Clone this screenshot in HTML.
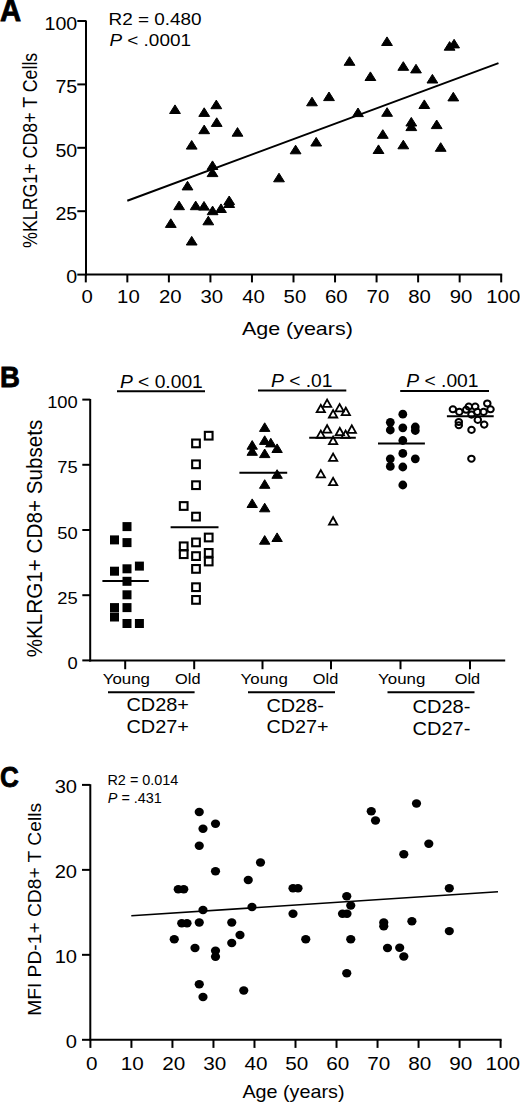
<!DOCTYPE html>
<html><head><meta charset="utf-8"><style>
html,body{margin:0;padding:0;background:#fff;}
svg{display:block;}
text{font-family:"Liberation Sans",sans-serif;fill:#000;stroke:none;}
</style></head><body>
<svg width="520" height="1102" viewBox="0 0 520 1102" fill="#000" stroke="#000">
<text transform="translate(0.07,20.50) scale(0.9591,1)" font-size="30.5" font-weight="bold" style="stroke:#000;stroke-width:0.8px">A</text>
<line x1="86.00" y1="20.50" x2="86.00" y2="275.50" stroke-width="2"/>
<line x1="85.00" y1="274.60" x2="502.20" y2="274.60" stroke-width="2"/>
<line x1="77.30" y1="274.60" x2="86.00" y2="274.60" stroke-width="2"/>
<text transform="translate(66.30,283.30) scale(1.0600,1)" font-size="18.5">0</text>
<line x1="77.30" y1="211.20" x2="86.00" y2="211.20" stroke-width="2"/>
<text transform="translate(55.42,219.90) scale(1.0600,1)" font-size="18.5">25</text>
<line x1="77.30" y1="147.80" x2="86.00" y2="147.80" stroke-width="2"/>
<text transform="translate(55.42,156.50) scale(1.0600,1)" font-size="18.5">50</text>
<line x1="77.30" y1="84.40" x2="86.00" y2="84.40" stroke-width="2"/>
<text transform="translate(55.42,93.10) scale(1.0600,1)" font-size="18.5">75</text>
<line x1="77.30" y1="21.00" x2="86.00" y2="21.00" stroke-width="2"/>
<text transform="translate(44.53,29.70) scale(1.0600,1)" font-size="18.5">100</text>
<line x1="85.80" y1="274.60" x2="85.80" y2="282.40" stroke-width="2"/>
<text transform="translate(81.55,303.30) scale(1.1000,1)" font-size="18.5">0</text>
<line x1="127.34" y1="274.60" x2="127.34" y2="282.40" stroke-width="2"/>
<text transform="translate(117.09,303.30) scale(1.1000,1)" font-size="18.5">10</text>
<line x1="168.88" y1="274.60" x2="168.88" y2="282.40" stroke-width="2"/>
<text transform="translate(158.88,303.30) scale(1.1000,1)" font-size="18.5">20</text>
<line x1="210.42" y1="274.60" x2="210.42" y2="282.40" stroke-width="2"/>
<text transform="translate(200.53,303.30) scale(1.1000,1)" font-size="18.5">30</text>
<line x1="251.96" y1="274.60" x2="251.96" y2="282.40" stroke-width="2"/>
<text transform="translate(242.22,303.30) scale(1.1000,1)" font-size="18.5">40</text>
<line x1="293.50" y1="274.60" x2="293.50" y2="282.40" stroke-width="2"/>
<text transform="translate(283.61,303.30) scale(1.1000,1)" font-size="18.5">50</text>
<line x1="335.04" y1="274.60" x2="335.04" y2="282.40" stroke-width="2"/>
<text transform="translate(325.04,303.30) scale(1.1000,1)" font-size="18.5">60</text>
<line x1="376.58" y1="274.60" x2="376.58" y2="282.40" stroke-width="2"/>
<text transform="translate(366.58,303.30) scale(1.1000,1)" font-size="18.5">70</text>
<line x1="418.12" y1="274.60" x2="418.12" y2="282.40" stroke-width="2"/>
<text transform="translate(408.17,303.30) scale(1.1000,1)" font-size="18.5">80</text>
<line x1="459.66" y1="274.60" x2="459.66" y2="282.40" stroke-width="2"/>
<text transform="translate(449.71,303.30) scale(1.1000,1)" font-size="18.5">90</text>
<line x1="501.20" y1="274.60" x2="501.20" y2="282.40" stroke-width="2"/>
<text transform="translate(486.30,303.30) scale(1.1000,1)" font-size="18.5">100</text>
<text transform="translate(108.49,25.00) scale(1.1000,1)" font-size="17.2" xml:space="preserve"><tspan>R2 = 0.480</tspan></text>
<text transform="translate(109.43,45.50) scale(1.1000,1)" font-size="17.2" xml:space="preserve"><tspan font-style="italic">P</tspan><tspan> &lt; .0001</tspan></text>
<text transform="translate(37.10,247.92) rotate(-90) scale(0.9039,1)" font-size="19.7">%KLRG1+ CD8+ T Cells</text>
<text transform="translate(241.89,334.80) scale(1.1928,1)" font-size="18">Age (years)</text>
<line x1="127.30" y1="200.70" x2="498.50" y2="63.10" stroke-width="2"/>
<path d="M169.60 113.50L175.00 104.90L180.40 113.50Z" stroke-width="1" stroke-linejoin="round"/>
<path d="M210.90 108.70L216.30 100.10L221.70 108.70Z" stroke-width="1" stroke-linejoin="round"/>
<path d="M198.80 116.40L204.20 107.80L209.60 116.40Z" stroke-width="1" stroke-linejoin="round"/>
<path d="M211.30 126.40L216.70 117.80L222.10 126.40Z" stroke-width="1" stroke-linejoin="round"/>
<path d="M198.80 133.70L204.20 125.10L209.60 133.70Z" stroke-width="1" stroke-linejoin="round"/>
<path d="M232.10 136.20L237.50 127.60L242.90 136.20Z" stroke-width="1" stroke-linejoin="round"/>
<path d="M186.30 149.10L191.70 140.50L197.10 149.10Z" stroke-width="1" stroke-linejoin="round"/>
<path d="M207.10 169.50L212.50 160.90L217.90 169.50Z" stroke-width="1" stroke-linejoin="round"/>
<path d="M207.10 176.60L212.50 168.00L217.90 176.60Z" stroke-width="1" stroke-linejoin="round"/>
<path d="M182.10 189.90L187.50 181.30L192.90 189.90Z" stroke-width="1" stroke-linejoin="round"/>
<path d="M173.70 209.70L179.10 201.10L184.50 209.70Z" stroke-width="1" stroke-linejoin="round"/>
<path d="M190.30 209.70L195.70 201.10L201.10 209.70Z" stroke-width="1" stroke-linejoin="round"/>
<path d="M198.60 210.10L204.00 201.50L209.40 210.10Z" stroke-width="1" stroke-linejoin="round"/>
<path d="M207.20 214.70L212.60 206.10L218.00 214.70Z" stroke-width="1" stroke-linejoin="round"/>
<path d="M215.60 212.50L221.00 203.90L226.40 212.50Z" stroke-width="1" stroke-linejoin="round"/>
<path d="M223.80 204.60L229.20 196.00L234.60 204.60Z" stroke-width="1" stroke-linejoin="round"/>
<path d="M223.80 207.50L229.20 198.90L234.60 207.50Z" stroke-width="1" stroke-linejoin="round"/>
<path d="M165.40 227.40L170.80 218.80L176.20 227.40Z" stroke-width="1" stroke-linejoin="round"/>
<path d="M202.90 224.80L208.30 216.20L213.70 224.80Z" stroke-width="1" stroke-linejoin="round"/>
<path d="M186.30 245.00L191.70 236.40L197.10 245.00Z" stroke-width="1" stroke-linejoin="round"/>
<path d="M273.60 181.80L279.00 173.20L284.40 181.80Z" stroke-width="1" stroke-linejoin="round"/>
<path d="M290.20 153.80L295.60 145.20L301.00 153.80Z" stroke-width="1" stroke-linejoin="round"/>
<path d="M310.80 146.00L316.20 137.40L321.60 146.00Z" stroke-width="1" stroke-linejoin="round"/>
<path d="M306.60 105.80L312.00 97.20L317.40 105.80Z" stroke-width="1" stroke-linejoin="round"/>
<path d="M323.60 100.60L329.00 92.00L334.40 100.60Z" stroke-width="1" stroke-linejoin="round"/>
<path d="M344.10 65.30L349.50 56.70L354.90 65.30Z" stroke-width="1" stroke-linejoin="round"/>
<path d="M352.60 116.60L358.00 108.00L363.40 116.60Z" stroke-width="1" stroke-linejoin="round"/>
<path d="M365.00 80.50L370.40 71.90L375.80 80.50Z" stroke-width="1" stroke-linejoin="round"/>
<path d="M381.60 45.50L387.00 36.90L392.40 45.50Z" stroke-width="1" stroke-linejoin="round"/>
<path d="M381.70 116.30L387.10 107.70L392.50 116.30Z" stroke-width="1" stroke-linejoin="round"/>
<path d="M377.40 138.30L382.80 129.70L388.20 138.30Z" stroke-width="1" stroke-linejoin="round"/>
<path d="M373.10 153.50L378.50 144.90L383.90 153.50Z" stroke-width="1" stroke-linejoin="round"/>
<path d="M397.90 70.30L403.30 61.70L408.70 70.30Z" stroke-width="1" stroke-linejoin="round"/>
<path d="M410.60 72.90L416.00 64.30L421.40 72.90Z" stroke-width="1" stroke-linejoin="round"/>
<path d="M397.90 148.80L403.30 140.20L408.70 148.80Z" stroke-width="1" stroke-linejoin="round"/>
<path d="M405.90 126.00L411.30 117.40L416.70 126.00Z" stroke-width="1" stroke-linejoin="round"/>
<path d="M405.90 130.60L411.30 122.00L416.70 130.60Z" stroke-width="1" stroke-linejoin="round"/>
<path d="M418.90 108.50L424.30 99.90L429.70 108.50Z" stroke-width="1" stroke-linejoin="round"/>
<path d="M427.00 83.00L432.40 74.40L437.80 83.00Z" stroke-width="1" stroke-linejoin="round"/>
<path d="M431.30 128.60L436.70 120.00L442.10 128.60Z" stroke-width="1" stroke-linejoin="round"/>
<path d="M435.30 151.30L440.70 142.70L446.10 151.30Z" stroke-width="1" stroke-linejoin="round"/>
<path d="M444.20 50.20L449.60 41.60L455.00 50.20Z" stroke-width="1" stroke-linejoin="round"/>
<path d="M448.70 47.90L454.10 39.30L459.50 47.90Z" stroke-width="1" stroke-linejoin="round"/>
<path d="M447.90 100.90L453.30 92.30L458.70 100.90Z" stroke-width="1" stroke-linejoin="round"/>
<text transform="translate(0.01,386.70) scale(0.9400,1)" font-size="29.3" font-weight="bold" style="stroke:#000;stroke-width:0.8px">B</text>
<line x1="90.20" y1="399.00" x2="90.20" y2="661.50" stroke-width="2"/>
<line x1="89.20" y1="660.60" x2="505.20" y2="660.60" stroke-width="2"/>
<line x1="82.30" y1="660.40" x2="90.20" y2="660.40" stroke-width="2"/>
<text transform="translate(67.54,669.00) scale(1.0800,1)" font-size="17">0</text>
<line x1="82.30" y1="595.20" x2="90.20" y2="595.20" stroke-width="2"/>
<text transform="translate(57.35,603.80) scale(1.0800,1)" font-size="17">25</text>
<line x1="82.30" y1="530.00" x2="90.20" y2="530.00" stroke-width="2"/>
<text transform="translate(57.35,538.60) scale(1.0800,1)" font-size="17">50</text>
<line x1="82.30" y1="464.80" x2="90.20" y2="464.80" stroke-width="2"/>
<text transform="translate(57.35,473.40) scale(1.0800,1)" font-size="17">75</text>
<line x1="82.30" y1="399.60" x2="90.20" y2="399.60" stroke-width="2"/>
<text transform="translate(47.16,408.20) scale(1.0800,1)" font-size="17">100</text>
<line x1="125.20" y1="660.60" x2="125.20" y2="669.20" stroke-width="2"/>
<line x1="194.20" y1="660.60" x2="194.20" y2="669.20" stroke-width="2"/>
<line x1="262.50" y1="660.60" x2="262.50" y2="669.20" stroke-width="2"/>
<line x1="331.00" y1="660.60" x2="331.00" y2="669.20" stroke-width="2"/>
<line x1="400.50" y1="660.60" x2="400.50" y2="669.20" stroke-width="2"/>
<line x1="470.00" y1="660.60" x2="470.00" y2="669.20" stroke-width="2"/>
<text transform="translate(102.71,684.20) scale(1.1250,1)" font-size="15">Young</text>
<text transform="translate(240.61,684.20) scale(1.1250,1)" font-size="15">Young</text>
<text transform="translate(378.11,684.20) scale(1.1250,1)" font-size="15">Young</text>
<text transform="translate(175.05,684.40) scale(1.0900,1)" font-size="15">Old</text>
<text transform="translate(312.85,684.40) scale(1.0900,1)" font-size="15">Old</text>
<text transform="translate(454.75,684.40) scale(1.0900,1)" font-size="15">Old</text>
<line x1="108.00" y1="692.30" x2="194.60" y2="692.30" stroke-width="2"/>
<line x1="248.00" y1="692.30" x2="335.00" y2="692.30" stroke-width="2"/>
<line x1="387.50" y1="692.30" x2="474.50" y2="692.30" stroke-width="2"/>
<text transform="translate(126.40,711.20) scale(1.1391,1)" font-size="17.5">CD28+</text>
<text transform="translate(126.40,733.00) scale(1.1391,1)" font-size="17.5">CD27+</text>
<text transform="translate(266.41,712.00) scale(1.1367,1)" font-size="17.5">CD28-</text>
<text transform="translate(266.41,733.40) scale(1.1316,1)" font-size="17.5">CD27+</text>
<text transform="translate(412.50,713.00) scale(1.1449,1)" font-size="17.5">CD28-</text>
<text transform="translate(412.50,734.80) scale(1.1449,1)" font-size="17.5">CD27-</text>
<text transform="translate(119.92,388.00) scale(1.1000,1)" font-size="17.5" xml:space="preserve"><tspan font-style="italic">P</tspan><tspan> &lt; 0.001</tspan></text>
<line x1="117.00" y1="391.30" x2="205.00" y2="391.30" stroke-width="2"/>
<text transform="translate(271.02,386.60) scale(1.1000,1)" font-size="17.5" xml:space="preserve"><tspan font-style="italic">P</tspan><tspan> &lt; .01</tspan></text>
<line x1="258.00" y1="390.60" x2="346.30" y2="390.60" stroke-width="2"/>
<text transform="translate(406.32,387.20) scale(1.1000,1)" font-size="17.5" xml:space="preserve"><tspan font-style="italic">P</tspan><tspan> &lt; .001</tspan></text>
<line x1="400.20" y1="391.00" x2="489.00" y2="391.00" stroke-width="2"/>
<text transform="translate(41.50,657.32) rotate(-90) scale(0.9611,1)" font-size="21.5">%KLRG1+ CD8+ Subsets</text>
<rect x="122.50" y="522.10" width="9" height="9" stroke="none"/>
<rect x="110.00" y="535.40" width="9" height="9" stroke="none"/>
<rect x="122.50" y="538.10" width="9" height="9" stroke="none"/>
<rect x="134.90" y="561.60" width="9" height="9" stroke="none"/>
<rect x="110.00" y="566.70" width="9" height="9" stroke="none"/>
<rect x="122.50" y="564.30" width="9" height="9" stroke="none"/>
<rect x="122.50" y="576.80" width="9" height="9" stroke="none"/>
<rect x="122.50" y="590.30" width="9" height="9" stroke="none"/>
<rect x="110.00" y="603.10" width="9" height="9" stroke="none"/>
<rect x="122.50" y="603.10" width="9" height="9" stroke="none"/>
<rect x="110.00" y="612.50" width="9" height="9" stroke="none"/>
<rect x="122.50" y="619.00" width="9" height="9" stroke="none"/>
<rect x="134.90" y="619.00" width="9" height="9" stroke="none"/>
<line x1="102.40" y1="580.90" x2="148.80" y2="580.90" stroke-width="2"/>
<rect x="204.85" y="431.85" width="7.70" height="7.70" fill="none" stroke-width="2.1"/>
<rect x="192.15" y="439.55" width="7.70" height="7.70" fill="none" stroke-width="2.1"/>
<rect x="192.15" y="460.45" width="7.70" height="7.70" fill="none" stroke-width="2.1"/>
<rect x="192.15" y="481.35" width="7.70" height="7.70" fill="none" stroke-width="2.1"/>
<rect x="179.85" y="502.15" width="7.70" height="7.70" fill="none" stroke-width="2.1"/>
<rect x="192.15" y="512.75" width="7.70" height="7.70" fill="none" stroke-width="2.1"/>
<rect x="204.85" y="533.65" width="7.70" height="7.70" fill="none" stroke-width="2.1"/>
<rect x="192.15" y="538.55" width="7.70" height="7.70" fill="none" stroke-width="2.1"/>
<rect x="179.85" y="542.45" width="7.70" height="7.70" fill="none" stroke-width="2.1"/>
<rect x="179.85" y="550.35" width="7.70" height="7.70" fill="none" stroke-width="2.1"/>
<rect x="192.15" y="552.25" width="7.70" height="7.70" fill="none" stroke-width="2.1"/>
<rect x="204.85" y="549.05" width="7.70" height="7.70" fill="none" stroke-width="2.1"/>
<rect x="204.85" y="557.65" width="7.70" height="7.70" fill="none" stroke-width="2.1"/>
<rect x="192.15" y="565.05" width="7.70" height="7.70" fill="none" stroke-width="2.1"/>
<rect x="192.15" y="583.35" width="7.70" height="7.70" fill="none" stroke-width="2.1"/>
<rect x="192.15" y="596.05" width="7.70" height="7.70" fill="none" stroke-width="2.1"/>
<line x1="170.60" y1="527.20" x2="218.50" y2="527.20" stroke-width="2"/>
<path d="M259.50 431.40L264.70 422.80L269.90 431.40Z" stroke-width="1" stroke-linejoin="round"/>
<path d="M259.50 444.40L264.70 435.80L269.90 444.40Z" stroke-width="1" stroke-linejoin="round"/>
<path d="M265.60 446.90L270.80 438.30L276.00 446.90Z" stroke-width="1" stroke-linejoin="round"/>
<path d="M247.00 449.20L252.20 440.60L257.40 449.20Z" stroke-width="1" stroke-linejoin="round"/>
<path d="M247.00 455.30L252.20 446.70L257.40 455.30Z" stroke-width="1" stroke-linejoin="round"/>
<path d="M271.90 452.50L277.10 443.90L282.30 452.50Z" stroke-width="1" stroke-linejoin="round"/>
<path d="M259.50 457.60L264.70 449.00L269.90 457.60Z" stroke-width="1" stroke-linejoin="round"/>
<path d="M271.90 478.30L277.10 469.70L282.30 478.30Z" stroke-width="1" stroke-linejoin="round"/>
<path d="M259.50 488.30L264.70 479.70L269.90 488.30Z" stroke-width="1" stroke-linejoin="round"/>
<path d="M247.00 507.50L252.20 498.90L257.40 507.50Z" stroke-width="1" stroke-linejoin="round"/>
<path d="M259.50 511.80L264.70 503.20L269.90 511.80Z" stroke-width="1" stroke-linejoin="round"/>
<path d="M259.50 544.20L264.70 535.60L269.90 544.20Z" stroke-width="1" stroke-linejoin="round"/>
<path d="M271.90 541.50L277.10 532.90L282.30 541.50Z" stroke-width="1" stroke-linejoin="round"/>
<line x1="239.40" y1="472.80" x2="287.20" y2="472.80" stroke-width="2"/>
<path d="M322.95 406.90L327.10 399.50L331.25 406.90Z" fill="none" stroke-width="1.8" stroke-linejoin="miter"/>
<path d="M316.65 412.20L320.80 404.80L324.95 412.20Z" fill="none" stroke-width="1.8" stroke-linejoin="miter"/>
<path d="M335.45 411.40L339.60 404.00L343.75 411.40Z" fill="none" stroke-width="1.8" stroke-linejoin="miter"/>
<path d="M341.65 415.10L345.80 407.70L349.95 415.10Z" fill="none" stroke-width="1.8" stroke-linejoin="miter"/>
<path d="M328.95 417.50L333.10 410.10L337.25 417.50Z" fill="none" stroke-width="1.8" stroke-linejoin="miter"/>
<path d="M322.95 432.60L327.10 425.20L331.25 432.60Z" fill="none" stroke-width="1.8" stroke-linejoin="miter"/>
<path d="M347.65 432.80L351.80 425.40L355.95 432.80Z" fill="none" stroke-width="1.8" stroke-linejoin="miter"/>
<path d="M335.65 435.20L339.80 427.80L343.95 435.20Z" fill="none" stroke-width="1.8" stroke-linejoin="miter"/>
<path d="M316.65 437.90L320.80 430.50L324.95 437.90Z" fill="none" stroke-width="1.8" stroke-linejoin="miter"/>
<path d="M341.45 437.90L345.60 430.50L349.75 437.90Z" fill="none" stroke-width="1.8" stroke-linejoin="miter"/>
<path d="M328.95 444.10L333.10 436.70L337.25 444.10Z" fill="none" stroke-width="1.8" stroke-linejoin="miter"/>
<path d="M328.95 460.90L333.10 453.50L337.25 460.90Z" fill="none" stroke-width="1.8" stroke-linejoin="miter"/>
<path d="M316.65 477.40L320.80 470.00L324.95 477.40Z" fill="none" stroke-width="1.8" stroke-linejoin="miter"/>
<path d="M328.95 485.20L333.10 477.80L337.25 485.20Z" fill="none" stroke-width="1.8" stroke-linejoin="miter"/>
<path d="M328.95 524.60L333.10 517.20L337.25 524.60Z" fill="none" stroke-width="1.8" stroke-linejoin="miter"/>
<line x1="309.20" y1="437.80" x2="355.80" y2="437.80" stroke-width="2"/>
<ellipse cx="402.80" cy="414.20" rx="4.4" ry="4.4" stroke="none"/>
<ellipse cx="390.30" cy="422.30" rx="4.4" ry="4.4" stroke="none"/>
<ellipse cx="390.30" cy="430.00" rx="4.4" ry="4.4" stroke="none"/>
<ellipse cx="402.80" cy="427.80" rx="4.4" ry="4.4" stroke="none"/>
<ellipse cx="415.30" cy="427.00" rx="4.4" ry="4.4" stroke="none"/>
<ellipse cx="415.30" cy="430.50" rx="4.4" ry="4.4" stroke="none"/>
<ellipse cx="402.80" cy="440.50" rx="4.4" ry="4.4" stroke="none"/>
<ellipse cx="402.80" cy="453.40" rx="4.4" ry="4.4" stroke="none"/>
<ellipse cx="390.30" cy="458.80" rx="4.4" ry="4.4" stroke="none"/>
<ellipse cx="390.30" cy="466.40" rx="4.4" ry="4.4" stroke="none"/>
<ellipse cx="415.30" cy="458.80" rx="4.4" ry="4.4" stroke="none"/>
<ellipse cx="402.80" cy="467.00" rx="4.4" ry="4.4" stroke="none"/>
<ellipse cx="402.80" cy="485.00" rx="4.4" ry="4.4" stroke="none"/>
<line x1="378.00" y1="443.60" x2="424.90" y2="443.60" stroke-width="2"/>
<ellipse cx="452.90" cy="409.30" rx="3.25" ry="3.05" fill="none" stroke-width="2.0"/>
<ellipse cx="459.30" cy="411.90" rx="3.25" ry="3.05" fill="none" stroke-width="2.0"/>
<ellipse cx="466.20" cy="409.80" rx="3.25" ry="3.05" fill="none" stroke-width="2.0"/>
<ellipse cx="468.80" cy="406.60" rx="3.25" ry="3.05" fill="none" stroke-width="2.0"/>
<ellipse cx="475.20" cy="406.60" rx="3.25" ry="3.05" fill="none" stroke-width="2.0"/>
<ellipse cx="471.50" cy="414.60" rx="3.25" ry="3.05" fill="none" stroke-width="2.0"/>
<ellipse cx="477.30" cy="411.90" rx="3.25" ry="3.05" fill="none" stroke-width="2.0"/>
<ellipse cx="483.60" cy="411.90" rx="3.25" ry="3.05" fill="none" stroke-width="2.0"/>
<ellipse cx="487.30" cy="403.50" rx="3.25" ry="3.05" fill="none" stroke-width="2.0"/>
<ellipse cx="490.50" cy="409.30" rx="3.25" ry="3.05" fill="none" stroke-width="2.0"/>
<ellipse cx="477.80" cy="419.90" rx="3.25" ry="3.05" fill="none" stroke-width="2.0"/>
<ellipse cx="458.80" cy="422.00" rx="3.25" ry="3.05" fill="none" stroke-width="2.0"/>
<ellipse cx="458.80" cy="425.20" rx="3.25" ry="3.05" fill="none" stroke-width="2.0"/>
<ellipse cx="484.20" cy="424.60" rx="3.25" ry="3.05" fill="none" stroke-width="2.0"/>
<ellipse cx="471.50" cy="429.90" rx="3.25" ry="3.05" fill="none" stroke-width="2.0"/>
<ellipse cx="471.40" cy="458.70" rx="3.25" ry="3.05" fill="none" stroke-width="2.0"/>
<line x1="446.90" y1="416.20" x2="493.70" y2="416.20" stroke-width="2"/>
<text transform="translate(-0.04,786.90) scale(0.8910,1)" font-size="29.3" font-weight="bold" style="stroke:#000;stroke-width:0.8px">C</text>
<line x1="90.30" y1="784.20" x2="90.30" y2="1040.60" stroke-width="2"/>
<line x1="89.30" y1="1039.80" x2="501.60" y2="1039.80" stroke-width="2"/>
<line x1="82.00" y1="1039.80" x2="90.30" y2="1039.80" stroke-width="2"/>
<text transform="translate(65.82,1048.00) scale(1.1200,1)" font-size="18">0</text>
<line x1="82.00" y1="954.83" x2="90.30" y2="954.83" stroke-width="2"/>
<text transform="translate(54.63,963.03) scale(1.1200,1)" font-size="18">10</text>
<line x1="82.00" y1="869.87" x2="90.30" y2="869.87" stroke-width="2"/>
<text transform="translate(54.63,878.07) scale(1.1200,1)" font-size="18">20</text>
<line x1="82.00" y1="784.90" x2="90.30" y2="784.90" stroke-width="2"/>
<text transform="translate(54.63,793.10) scale(1.1200,1)" font-size="18">30</text>
<line x1="90.40" y1="1039.80" x2="90.40" y2="1047.90" stroke-width="2"/>
<text transform="translate(85.96,1069.80) scale(1.1500,1)" font-size="18">0</text>
<line x1="131.42" y1="1039.80" x2="131.42" y2="1047.90" stroke-width="2"/>
<text transform="translate(120.87,1069.80) scale(1.1500,1)" font-size="18">10</text>
<line x1="172.44" y1="1039.80" x2="172.44" y2="1047.90" stroke-width="2"/>
<text transform="translate(162.15,1069.80) scale(1.1500,1)" font-size="18">20</text>
<line x1="213.46" y1="1039.80" x2="213.46" y2="1047.90" stroke-width="2"/>
<text transform="translate(203.27,1069.80) scale(1.1500,1)" font-size="18">30</text>
<line x1="254.48" y1="1039.80" x2="254.48" y2="1047.90" stroke-width="2"/>
<text transform="translate(244.45,1069.80) scale(1.1500,1)" font-size="18">40</text>
<line x1="295.50" y1="1039.80" x2="295.50" y2="1047.90" stroke-width="2"/>
<text transform="translate(285.31,1069.80) scale(1.1500,1)" font-size="18">50</text>
<line x1="336.52" y1="1039.80" x2="336.52" y2="1047.90" stroke-width="2"/>
<text transform="translate(326.23,1069.80) scale(1.1500,1)" font-size="18">60</text>
<line x1="377.54" y1="1039.80" x2="377.54" y2="1047.90" stroke-width="2"/>
<text transform="translate(367.25,1069.80) scale(1.1500,1)" font-size="18">70</text>
<line x1="418.56" y1="1039.80" x2="418.56" y2="1047.90" stroke-width="2"/>
<text transform="translate(408.32,1069.80) scale(1.1500,1)" font-size="18">80</text>
<line x1="459.58" y1="1039.80" x2="459.58" y2="1047.90" stroke-width="2"/>
<text transform="translate(449.34,1069.80) scale(1.1500,1)" font-size="18">90</text>
<line x1="500.60" y1="1039.80" x2="500.60" y2="1047.90" stroke-width="2"/>
<text transform="translate(485.40,1069.80) scale(1.1500,1)" font-size="18">100</text>
<text transform="translate(107.45,785.40) scale(1.0300,1)" font-size="14" xml:space="preserve"><tspan>R2 = 0.014</tspan></text>
<text transform="translate(107.77,803.00) scale(1.0300,1)" font-size="14" xml:space="preserve"><tspan font-style="italic">P</tspan><tspan> = .431</tspan></text>
<text transform="translate(40.80,1015.84) rotate(-90) scale(1.0341,1)" font-size="18.6">MFI PD-1+ CD8+ T Cells</text>
<text transform="translate(242.40,1097.50) scale(1.1294,1)" font-size="17.5">Age (years)</text>
<line x1="131.30" y1="915.80" x2="498.00" y2="891.80" stroke-width="1.6"/>
<ellipse cx="199.25" cy="812.00" rx="4.6" ry="4.2" stroke="none"/>
<ellipse cx="215.50" cy="823.75" rx="4.6" ry="4.2" stroke="none"/>
<ellipse cx="203.00" cy="828.75" rx="4.6" ry="4.2" stroke="none"/>
<ellipse cx="199.25" cy="845.75" rx="4.6" ry="4.2" stroke="none"/>
<ellipse cx="260.50" cy="862.50" rx="4.6" ry="4.2" stroke="none"/>
<ellipse cx="215.50" cy="871.25" rx="4.6" ry="4.2" stroke="none"/>
<ellipse cx="248.25" cy="880.00" rx="4.6" ry="4.2" stroke="none"/>
<ellipse cx="178.25" cy="889.25" rx="4.6" ry="4.2" stroke="none"/>
<ellipse cx="183.75" cy="889.25" rx="4.6" ry="4.2" stroke="none"/>
<ellipse cx="203.00" cy="910.00" rx="4.6" ry="4.2" stroke="none"/>
<ellipse cx="252.00" cy="907.00" rx="4.6" ry="4.2" stroke="none"/>
<ellipse cx="181.75" cy="923.25" rx="4.6" ry="4.2" stroke="none"/>
<ellipse cx="187.00" cy="923.25" rx="4.6" ry="4.2" stroke="none"/>
<ellipse cx="199.25" cy="922.50" rx="4.6" ry="4.2" stroke="none"/>
<ellipse cx="231.75" cy="922.50" rx="4.6" ry="4.2" stroke="none"/>
<ellipse cx="174.25" cy="939.25" rx="4.6" ry="4.2" stroke="none"/>
<ellipse cx="240.00" cy="935.00" rx="4.6" ry="4.2" stroke="none"/>
<ellipse cx="231.75" cy="943.00" rx="4.6" ry="4.2" stroke="none"/>
<ellipse cx="195.00" cy="948.00" rx="4.6" ry="4.2" stroke="none"/>
<ellipse cx="215.50" cy="950.75" rx="4.6" ry="4.2" stroke="none"/>
<ellipse cx="215.50" cy="956.75" rx="4.6" ry="4.2" stroke="none"/>
<ellipse cx="199.25" cy="984.25" rx="4.6" ry="4.2" stroke="none"/>
<ellipse cx="203.00" cy="997.00" rx="4.6" ry="4.2" stroke="none"/>
<ellipse cx="243.75" cy="990.50" rx="4.6" ry="4.2" stroke="none"/>
<ellipse cx="371.25" cy="811.25" rx="4.6" ry="4.2" stroke="none"/>
<ellipse cx="375.50" cy="820.50" rx="4.6" ry="4.2" stroke="none"/>
<ellipse cx="293.00" cy="888.25" rx="4.6" ry="4.2" stroke="none"/>
<ellipse cx="298.00" cy="888.25" rx="4.6" ry="4.2" stroke="none"/>
<ellipse cx="346.75" cy="896.25" rx="4.6" ry="4.2" stroke="none"/>
<ellipse cx="350.75" cy="905.50" rx="4.6" ry="4.2" stroke="none"/>
<ellipse cx="293.00" cy="913.75" rx="4.6" ry="4.2" stroke="none"/>
<ellipse cx="342.50" cy="913.75" rx="4.6" ry="4.2" stroke="none"/>
<ellipse cx="347.00" cy="913.75" rx="4.6" ry="4.2" stroke="none"/>
<ellipse cx="383.75" cy="922.50" rx="4.6" ry="4.2" stroke="none"/>
<ellipse cx="383.75" cy="926.25" rx="4.6" ry="4.2" stroke="none"/>
<ellipse cx="305.75" cy="939.25" rx="4.6" ry="4.2" stroke="none"/>
<ellipse cx="350.75" cy="939.25" rx="4.6" ry="4.2" stroke="none"/>
<ellipse cx="387.50" cy="948.00" rx="4.6" ry="4.2" stroke="none"/>
<ellipse cx="346.75" cy="973.25" rx="4.6" ry="4.2" stroke="none"/>
<ellipse cx="416.50" cy="803.50" rx="4.6" ry="4.2" stroke="none"/>
<ellipse cx="428.80" cy="843.80" rx="4.6" ry="4.2" stroke="none"/>
<ellipse cx="403.80" cy="854.20" rx="4.6" ry="4.2" stroke="none"/>
<ellipse cx="449.30" cy="888.20" rx="4.6" ry="4.2" stroke="none"/>
<ellipse cx="411.90" cy="921.20" rx="4.6" ry="4.2" stroke="none"/>
<ellipse cx="449.30" cy="931.10" rx="4.6" ry="4.2" stroke="none"/>
<ellipse cx="399.70" cy="947.70" rx="4.6" ry="4.2" stroke="none"/>
<ellipse cx="403.80" cy="956.50" rx="4.6" ry="4.2" stroke="none"/>
</svg>
</body></html>
